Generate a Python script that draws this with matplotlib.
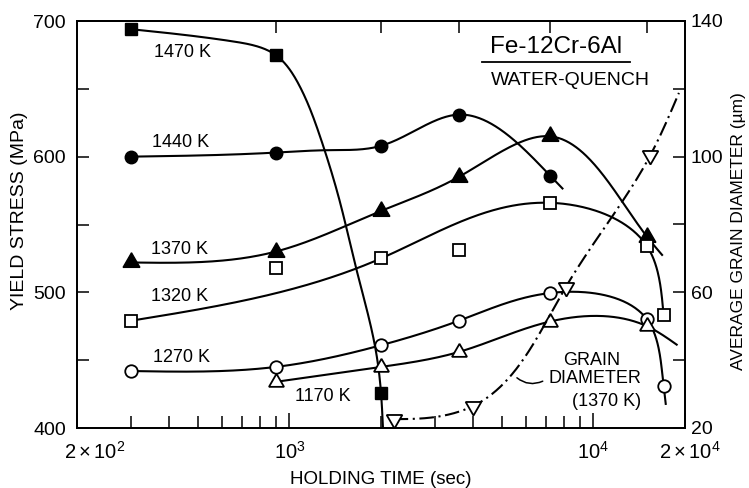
import numpy as np
import matplotlib
matplotlib.use("Agg")
import matplotlib.pyplot as plt
import matplotlib.transforms as mtrans
from matplotlib.ticker import FixedLocator, NullLocator, NullFormatter

plt.rcParams['font.family'] = ['Liberation Sans', 'DejaVu Sans']
plt.rcParams['mathtext.fontset'] = 'custom'
plt.rcParams['mathtext.rm'] = 'Liberation Sans'
plt.rcParams['mathtext.it'] = 'Liberation Sans:italic'

# ---------------- data ----------------
# holding time in s, yield stress in MPa
t_1470 = [300, 900, 2000]
s_1470 = [694, 675, 426]
curve_1470_t = [300, 650, 900, 1080, 1260, 1460, 1660, 1930, 2000, 2030]
curve_1470_s = [694, 685, 675, 652, 615, 568, 517, 455, 426, 400]

t_1440 = [300, 900, 2000, 3600, 7200]
s_1440 = [600, 603, 608, 631, 586]
curve_1440_t = [300, 900, 1350, 2000, 3600, 7200, 7950]
curve_1440_s = [600, 603, 604.8, 608, 631, 586, 576]

t_1370 = [300, 900, 2000, 3600, 7200, 15000]
s_1370 = [522, 530, 560, 585, 615, 541]
curve_1370_t = [300, 900, 2000, 3600, 7200, 15000, 16900]
curve_1370_s = [522, 530, 560, 585, 615, 541, 527]

t_1320 = [300, 900, 2000, 3600, 7200, 15000, 17000]
s_1320 = [479, 518, 525, 531, 566, 534, 483.5]
curve_1320_t = [300, 2000, 7200, 15000, 17000]
curve_1320_s = [479, 525, 566, 534, 483.5]

t_1270 = [300, 900, 2000, 3600, 7200, 15000, 17000]
s_1270 = [442, 445, 461, 479, 499.5, 480, 431]
curve_1270_t = [300, 900, 2000, 3600, 7200, 15000, 17000, 17300]
curve_1270_s = [442, 445, 461, 479, 499.5, 480, 431, 417]

t_1170 = [900, 2000, 3600, 7200, 15000]
s_1170 = [434, 445, 456, 478.5, 475]
curve_1170_t = [900, 2000, 3600, 7200, 15000, 18900]
curve_1170_s = [434, 445, 456, 478.5, 475, 461]

# grain diameter (um) at 1370 K
t_grain = [2200, 4000, 8100, 15400]
d_grain = [22.6, 26.4, 61.5, 100.5]
curve_grain_t = [2200, 3000, 4000, 8100, 15400, 19100]
curve_grain_d = [22.6, 23.2, 26.4, 61.5, 100.5, 118.8]

top_tick_times = [900, 2000, 3600, 7200, 15000]

# ---------------- helpers ----------------
XMIN, XMAX = 200, 20000
YMIN, YMAX = 400, 700
DMIN, DMAX = 20, 140
AX_W, AX_H = 608, 407


def nat_spline(t, y, tt):
    n = len(t)
    h = np.diff(t)
    A = np.zeros((n, n))
    r = np.zeros(n)
    A[0, 0] = 1
    A[-1, -1] = 1
    for i in range(1, n - 1):
        A[i, i - 1] = h[i - 1]
        A[i, i] = 2 * (h[i - 1] + h[i])
        A[i, i + 1] = h[i]
        r[i] = 6 * ((y[i + 1] - y[i]) / h[i] - (y[i] - y[i - 1]) / h[i - 1])
    M = np.linalg.solve(A, r)
    idx = np.clip(np.searchsorted(t, tt) - 1, 0, n - 2)
    ti, ti1 = t[idx], t[idx + 1]
    hi = ti1 - ti
    a = (ti1 - tt) / hi
    b = (tt - ti) / hi
    return a * y[idx] + b * y[idx + 1] + ((a ** 3 - a) * M[idx] + (b ** 3 - b) * M[idx + 1]) * hi ** 2 / 6


def smooth(ts, vs, vmin, vmax, n=400):
    ts = np.asarray(ts, float)
    vs = np.asarray(vs, float)
    u = (np.log10(ts) - np.log10(XMIN)) / (np.log10(XMAX) - np.log10(XMIN)) * AX_W
    v = (vs - vmin) / (vmax - vmin) * AX_H
    p = np.concatenate([[0], np.cumsum(np.hypot(np.diff(u), np.diff(v)))])
    pp = np.linspace(0, p[-1], n)
    uu = nat_spline(p, u, pp)
    vv = nat_spline(p, v, pp)
    tt = 10 ** (uu / AX_W * (np.log10(XMAX) - np.log10(XMIN)) + np.log10(XMIN))
    return tt, vv / AX_H * (vmax - vmin) + vmin


# ---------------- figure ----------------
fig = plt.figure(figsize=(7.49, 4.88), dpi=100)
ax = fig.add_axes([77 / 749, 60 / 488, 608 / 749, 407 / 488])
ax.set_xscale('log')
ax.set_xlim(XMIN, XMAX)
ax.set_ylim(YMIN, YMAX)

LW = 1.5
MEW = 1.3
series = [
    (curve_1470_t, curve_1470_s, t_1470, s_1470, dict(marker='s', ms=8.5, mfc='black', mec='black')),
    (curve_1440_t, curve_1440_s, t_1440, s_1440, dict(marker='o', ms=9, mfc='black', mec='black')),
    (curve_1370_t, curve_1370_s, t_1370, s_1370, dict(marker=(3, 0, 0), ms=14, mfc='black', mec='black')),
    (curve_1320_t, curve_1320_s, t_1320, s_1320, dict(marker='s', ms=8, mfc='white', mec='black', mew=MEW)),
    (curve_1270_t, curve_1270_s, t_1270, s_1270, dict(marker='o', ms=9, mfc='white', mec='black', mew=MEW)),
    (curve_1170_t, curve_1170_s, t_1170, s_1170, dict(marker=(3, 0, 0), ms=12.5, mfc='white', mec='black', mew=MEW)),
]
for ct, cs, mt, ms_, mk in series:
    xx, yy = smooth(ct, cs, YMIN, YMAX)
    ax.plot(xx, yy, color='black', lw=LW, zorder=2, solid_capstyle='butt')
    ax.plot(mt, ms_, ls='none', zorder=3, **mk)

# axis styling
for sp in ax.spines.values():
    sp.set_linewidth(1.3)
ax.xaxis.set_major_locator(FixedLocator([200, 1000, 10000, 20000]))
ax.set_xticklabels([r'$\mathregular{2\times10^2}$', r'$\mathregular{10^3}$',
                    r'$\mathregular{10^4}$', r'$\mathregular{2\times10^4}$'])
minor_x = [m * 10 ** e for e in (2, 3) for m in range(2, 10)
           if 200 < m * 10 ** e < 20000 and m * 10 ** e not in (1000, 10000)]
ax.xaxis.set_minor_locator(FixedLocator(minor_x))
ax.xaxis.set_minor_formatter(NullFormatter())
ax.yaxis.set_major_locator(FixedLocator([400, 500, 600, 700]))
ax.yaxis.set_minor_locator(FixedLocator([450, 550, 650]))
ax.tick_params(axis='both', which='both', direction='in', width=1.1, labelsize=14, top=False, right=False)
ax.tick_params(axis='x', which='major', length=10.5, pad=9, labelsize=14.5)
ax.tick_params(axis='x', which='minor', length=8.5)
ax.tick_params(axis='y', which='both', length=8.5, pad=8)

lbls = ax.get_xticklabels()
lbls[0].set_transform(lbls[0].get_transform() + mtrans.ScaledTranslation(18 / 100, 0, fig.dpi_scale_trans))
lbls[3].set_transform(lbls[3].get_transform() + mtrans.ScaledTranslation(5 / 100, 0, fig.dpi_scale_trans))

ax.set_xlabel('HOLDING TIME (sec)', fontsize=13.5, labelpad=6)
ax.set_ylabel('YIELD STRESS (MPa)', fontsize=14)
ax.yaxis.set_label_coords(-0.080, 0.533)

# top ticks
sec = ax.secondary_xaxis('top')
sec.xaxis.set_major_locator(FixedLocator(top_tick_times))
sec.xaxis.set_minor_locator(NullLocator())
sec.xaxis.set_major_formatter(NullFormatter())
sec.tick_params(direction='in', length=8.5, width=1.1)
sec.spines['top'].set_linewidth(1.3)

# right axis: grain diameter
ax2 = ax.twinx()
ax2.set_ylim(DMIN, DMAX)
xx, yy = smooth(curve_grain_t, curve_grain_d, DMIN, DMAX)
ax2.plot(xx, yy, color='black', lw=LW, ls=(0, (7, 2.2, 1, 2.2)), zorder=2)
ax2.plot(t_grain, d_grain, ls='none', marker=(3, 0, 180), ms=13, mfc='white', mec='black', mew=MEW, zorder=3)
ax2.yaxis.set_major_locator(FixedLocator([20, 60, 100, 140]))
ax2.yaxis.set_minor_locator(FixedLocator([40, 80, 120]))
ax2.tick_params(axis='y', which='both', direction='in', length=8.5, width=1.1, labelsize=14, pad=4)
ax2.set_ylabel('AVERAGE GRAIN DIAMETER (\u00b5m)', fontsize=12.5, rotation=90)
ax2.yaxis.set_label_coords(1.076, 0.484)
for sp in ax2.spines.values():
    sp.set_linewidth(1.3)

# texts
tk = dict(transform=ax.transAxes, ha='center', va='center', fontsize=13)
ax.text(0.1743, 0.9214, '1470 K', **tk)
ax.text(0.171, 0.701, '1440 K', **tk)
ax.text(0.1694, 0.439, '1370 K', **tk)
ax.text(0.1694, 0.3226, '1320 K', **tk)
ax.text(0.1722, 0.1737, '1270 K', **tk)
ax.text(0.4046, 0.0769, '1170 K', **tk)
ax.text(0.7878, 0.936, 'Fe-12Cr-6Al', transform=ax.transAxes, ha='center', va='center', fontsize=17.5)
ax.plot([0.666, 0.9095], [0.900, 0.900], transform=ax.transAxes, color='black', lw=1.3)
ax.text(0.8109, 0.855, 'WATER-QUENCH', transform=ax.transAxes, ha='center', va='center', fontsize=14)
ax.text(0.8465, 0.167, 'GRAIN', **tk)
ax.text(0.852, 0.122, 'DIAMETER', **tk)
ax.text(0.8717, 0.0646, '(1370 K)', **tk)
ax2.annotate('', xy=(5600, 34.8), xycoords='data', xytext=(0.766, 0.115), textcoords='axes fraction',
             arrowprops=dict(arrowstyle='-', lw=1.1, color='black', connectionstyle='arc3,rad=-0.3',
                             shrinkA=0, shrinkB=0))

fig.savefig('out.png', dpi=100)
